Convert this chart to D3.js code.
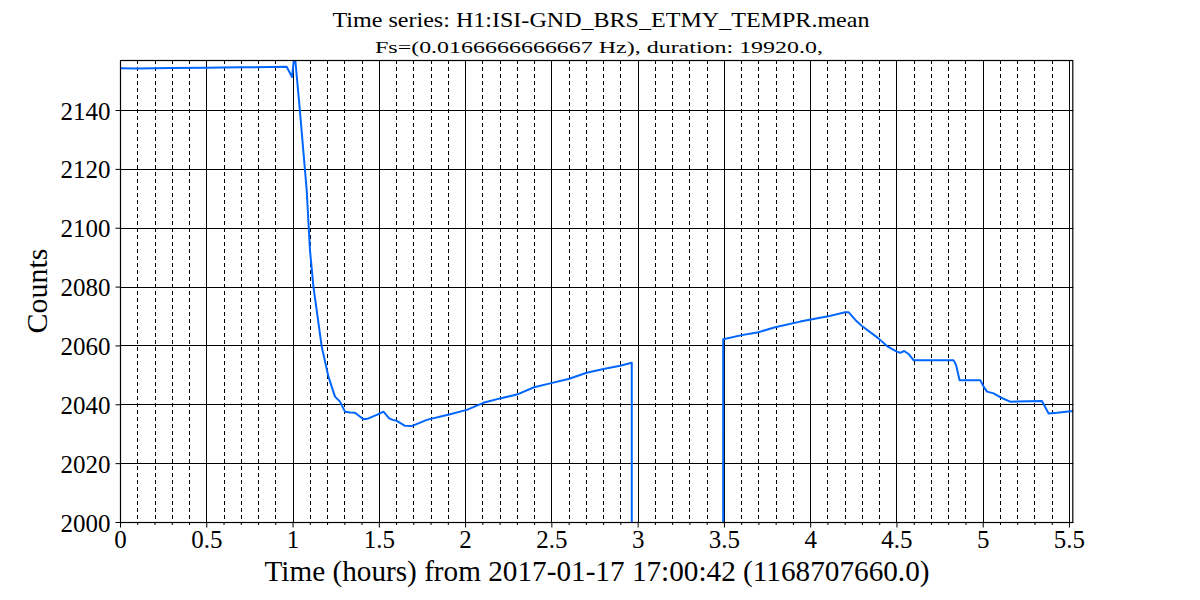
<!DOCTYPE html>
<html>
<head>
<meta charset="utf-8">
<script src="https://cdn.jsdelivr.net/npm/d3@7"></script>
<style>
  html, body { margin: 0; padding: 0; background: #fff; }
  svg text { font-family: "Liberation Serif", "DejaVu Serif", serif; fill: #000; }
</style>
</head>
<body>
<svg id="chart" width="1200" height="600"></svg>
<script>
// ---- data (hours since start, counts) ----
const hours = [
  0.000, 0.100, 0.300, 0.500, 0.700, 0.966, 0.997, 1.012, 1.043, 1.082,
  1.101, 1.121, 1.169, 1.208, 1.246, 1.275, 1.304, 1.335, 1.362, 1.411,
  1.440, 1.488, 1.527, 1.560, 1.581, 1.604, 1.652, 1.691, 1.778, 1.913,
  2.010, 2.106, 2.203, 2.300, 2.400, 2.493, 2.599, 2.705, 2.802, 2.899,
  2.966, 2.967, 3.495, 3.496, 3.604, 3.700, 3.797, 3.942, 4.097, 4.203,
  4.222, 4.271, 4.300, 4.396, 4.445, 4.502, 4.522, 4.545, 4.570, 4.599,
  4.831, 4.846, 4.866, 4.986, 5.005, 5.025, 5.063, 5.101, 5.159, 5.343,
  5.382, 5.430, 5.525
];
const counts = [
  2154.2, 2154.1, 2154.3, 2154.4, 2154.5, 2154.7, 2151.2, 2159.5, 2139.5, 2112.8,
  2092.4, 2080.0, 2059.6, 2049.4, 2042.6, 2040.9, 2037.5, 2037.2, 2037.1, 2034.9,
  2035.2, 2036.4, 2037.5, 2035.2, 2034.7, 2034.4, 2032.7, 2032.6, 2034.7, 2036.6,
  2038.1, 2040.5, 2042.0, 2043.3, 2045.8, 2047.1, 2048.6, 2050.7, 2052.0, 2053.1,
  2054.1, 0, 0, 2062.1, 2063.5, 2064.5, 2066.2, 2068.1, 2069.8, 2071.3,
  2071.3, 2068.1, 2066.6, 2062.4, 2059.8, 2057.9, 2057.5, 2058.1, 2057.1, 2055.0,
  2055.0, 2053.3, 2048.2, 2048.2, 2046.0, 2044.3, 2043.7, 2042.4, 2040.9, 2041.1,
  2036.9, 2037.1, 2037.7
];
const xTicks = [0, 0.5, 1, 1.5, 2, 2.5, 3, 3.5, 4, 4.5, 5, 5.5];
const xTickLabels = ["0", "0.5", "1", "1.5", "2", "2.5", "3", "3.5", "4", "4.5", "5", "5.5"];
const xMinorTicks = d3.range(0, 56).map(i => i / 10).filter(v => Math.round(v * 10) % 5 !== 0);
const yTicks = [2000, 2020, 2040, 2060, 2080, 2100, 2120, 2140];
const xDomain = [0, 5.525];
const yDomain = [2000, 2157];

const titleText = "Time series: H1:ISI-GND_BRS_ETMY_TEMPR.mean";
const subtitleText = "Fs=(0.0166666666667 Hz), duration: 19920.0,";
const xLabelText = "Time (hours) from 2017-01-17 17:00:42 (1168707660.0)";
const yLabelText = "Counts";

// ---- layout ----
const svg = d3.select("#chart");
const L = 120, T = 60, W = 953.3, H = 462;
const x = d3.scaleLinear().domain(xDomain).range([L, L + W]);
const y = d3.scaleLinear().domain(yDomain).range([T + H, T]);

const g = svg.append("g");

svg.append("defs").append("clipPath").attr("id", "clip")
  .append("rect").attr("x", L).attr("y", T).attr("width", W).attr("height", H);

// grid: minor vertical dashed
g.append("g").selectAll("line").data(xMinorTicks).join("line")
  .attr("x1", d => Math.round(x(d)) + 0.5).attr("x2", d => Math.round(x(d)) + 0.5)
  .attr("y1", T).attr("y2", T + H)
  .attr("stroke", "#000").attr("stroke-width", 1).attr("stroke-dasharray", "4,3");
// major vertical
g.append("g").selectAll("line").data(xTicks).join("line")
  .attr("x1", d => Math.round(x(d)) + 0.5).attr("x2", d => Math.round(x(d)) + 0.5)
  .attr("y1", T).attr("y2", T + H)
  .attr("stroke", "#000").attr("stroke-width", 1);
// major horizontal
g.append("g").selectAll("line").data(yTicks).join("line")
  .attr("x1", L).attr("x2", L + W)
  .attr("y1", d => Math.round(y(d)) + 0.5).attr("y2", d => Math.round(y(d)) + 0.5)
  .attr("stroke", "#000").attr("stroke-width", 1);

// data line
const pts = hours.map((h, i) => [h, counts[i]]);
const line = d3.line().x(d => x(d[0])).y(d => y(d[1]));
g.append("path").datum(pts)
  .attr("clip-path", "url(#clip)")
  .attr("d", line)
  .attr("fill", "none")
  .attr("stroke", "#0066ff")
  .attr("stroke-width", 2)
  .attr("stroke-linejoin", "round");

// spines
g.append("rect").attr("x", L + 0.5).attr("y", T + 0.5).attr("width", W - 1).attr("height", H)
  .attr("fill", "none").attr("stroke", "#000").attr("stroke-width", 1.2);

// axes
const xAxis = d3.axisBottom(x).tickValues(xTicks).tickFormat((d, i) => xTickLabels[i])
  .tickSize(5).tickPadding(3);
const xa = g.append("g").attr("transform", `translate(0,${T + H + 0.5})`).call(xAxis);
xa.select(".domain").remove();
xa.selectAll("text").style("font-size", "25px").style("font-family", "Liberation Serif, serif");

const xMinor = d3.axisBottom(x).tickValues(xMinorTicks).tickFormat("").tickSize(2.5);
const xm = g.append("g").attr("transform", `translate(0,${T + H + 0.5})`).call(xMinor);
xm.select(".domain").remove();

const yAxis = d3.axisLeft(y).tickValues(yTicks).tickFormat(d3.format("d")).tickSize(5).tickPadding(5);
const ya = g.append("g").attr("transform", `translate(${L + 0.5},0)`).call(yAxis);
ya.select(".domain").remove();
ya.selectAll("text").style("font-size", "25px").style("font-family", "Liberation Serif, serif")
  .attr("dy", "0.36em");

// texts
svg.append("text").attr("x", 601).attr("y", 27).attr("text-anchor", "middle")
  .style("font-size", "22px").attr("textLength", 537).attr("lengthAdjust", "spacingAndGlyphs")
  .text(titleText);
svg.append("text").attr("x", 599).attr("y", 53).attr("text-anchor", "middle")
  .style("font-size", "16px").attr("textLength", 448).attr("lengthAdjust", "spacingAndGlyphs")
  .text(subtitleText);
svg.append("text").attr("x", 597).attr("y", 581).attr("text-anchor", "middle")
  .style("font-size", "29px").attr("textLength", 665).attr("lengthAdjust", "spacingAndGlyphs")
  .text(xLabelText);
svg.append("text").attr("transform", `translate(47,${T + H / 2}) rotate(-90)`)
  .attr("text-anchor", "middle").style("font-size", "30px").text(yLabelText);
</script>
</body>
</html>
